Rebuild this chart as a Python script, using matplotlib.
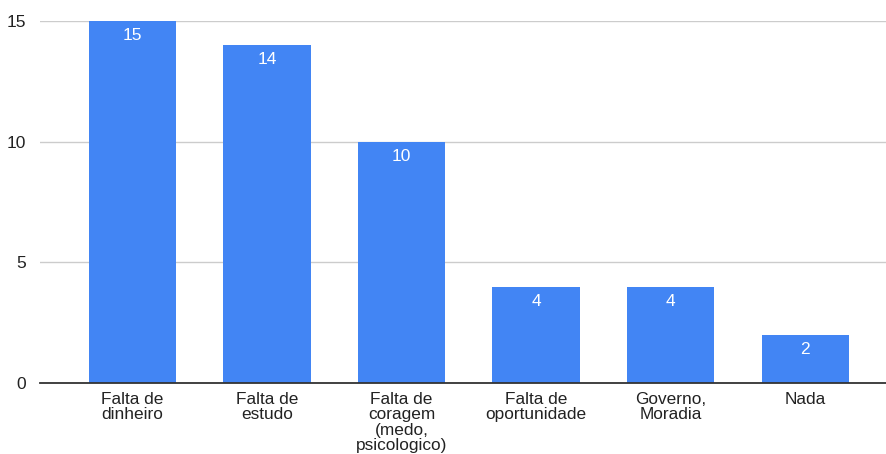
import matplotlib
matplotlib.use("Agg")
import matplotlib.pyplot as plt

categories = ["Falta de\ndinheiro", "Falta de\nestudo", "Falta de\ncoragem\n(medo,\npsicologico)",
              "Falta de\noportunidade", "Governo,\nMoradia", "Nada"]
values = [15, 14, 10, 4, 4, 2]
y_ticks = [0, 5, 10, 15]

plt.rcParams['font.family'] = ['Liberation Sans', 'DejaVu Sans']

W, H = 886, 454
fig = plt.figure(figsize=(W / 100, H / 100), dpi=100)
ax = fig.add_axes([40 / W, (H - 383.3) / H, (886 - 40) / W, (383.3 - 20.7) / H])

x = list(range(len(categories)))
bars = ax.bar(x, values, width=0.65, color="#4285F4", zorder=3)

for xi, v in zip(x, values):
    ax.annotate(str(v), xy=(xi, v), xytext=(0, -10.5), textcoords="offset points",
                ha="center", va="center", color="white", fontsize=12.5, zorder=4)

ax.set_xlim(-0.687, 5.6)
ax.set_ylim(0, 15)
ax.set_yticks(y_ticks)
ax.set_yticklabels([str(t) for t in y_ticks], fontsize=12.5, color="#222222")
ax.set_xticks(x)
ax.set_xticklabels(categories, fontsize=12.4, color="#222222", linespacing=1.05, va="top")

ax.yaxis.grid(True, color="#cccccc", linewidth=1.0, zorder=0)
ax.tick_params(axis="both", length=0)
ax.tick_params(axis="y", pad=10)
ax.tick_params(axis="x", pad=6)

for side in ["top", "right", "left"]:
    ax.spines[side].set_visible(False)
ax.spines["bottom"].set_color("#333333")
ax.spines["bottom"].set_linewidth(1.3)
ax.spines["bottom"].set_zorder(5)

fig.savefig("out.png", dpi=100, facecolor="white")
